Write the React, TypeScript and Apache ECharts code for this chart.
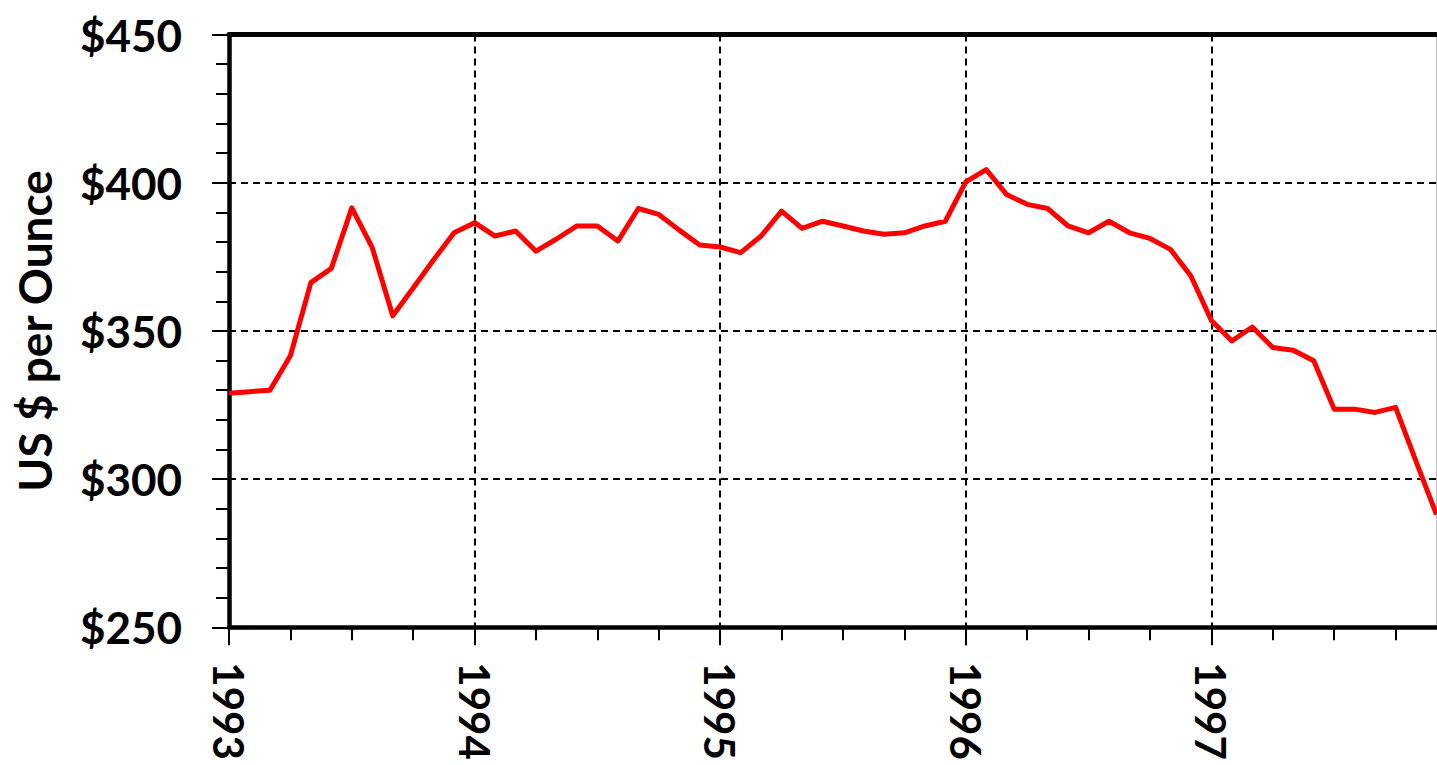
import React, { useEffect, useRef } from "react";
import * as echarts from "echarts";

// Month index from January 1993 (0) to December 1997 (59)
const months = [
  0, 1, 2, 3, 4, 5, 6, 7, 8, 9, 10, 11,
  12, 13, 14, 15, 16, 17, 18, 19, 20, 21, 22, 23,
  24, 25, 26, 27, 28, 29, 30, 31, 32, 33, 34, 35,
  36, 37, 38, 39, 40, 41, 42, 43, 44, 45, 46, 47,
  48, 49, 50, 51, 52, 53, 54, 55, 56, 57, 58, 59,
];
// Gold price, US $ per ounce (monthly)
const prices = [
  329.0, 329.5, 330.0, 341.6, 366.3, 371.1, 391.5, 378.1, 355.1, 364.5, 374.0, 383.1,
  386.5, 382.0, 383.7, 376.9, 381.0, 385.4, 385.4, 380.3, 391.3, 389.3, 384.0, 379.0,
  378.3, 376.4, 382.0, 390.4, 384.6, 387.0, 385.4, 383.7, 382.6, 383.1, 385.4, 387.0,
  400.3, 404.4, 396.0, 392.7, 391.3, 385.4, 383.1, 387.0, 383.1, 381.2, 377.5, 368.5,
  353.5, 346.6, 351.3, 344.4, 343.5, 339.9, 323.6, 323.6, 322.5, 324.2, 306.0, 288.0,
];
const yearLabels = ["1993", "1994", "1995", "1996", "1997"];
const yearTicks = [0, 12, 24, 36, 48];
const quarterTicks = [3, 6, 9, 15, 18, 21, 27, 30, 33, 39, 42, 45, 51, 54, 57];
const yMin = 250;
const yMax = 450;
const yStep = 50;
const xMin = 0;
const xMax = 59;

const FONT = "Lato";

export default function App() {
  const ref = useRef<HTMLDivElement>(null);
  useEffect(() => {
    if (!ref.current) return;
    const chart = echarts.init(ref.current, null, { renderer: "svg" });
    const gridLine = { color: "#000", width: 2, type: [7, 5] };
    const option = {
      animation: false,
      backgroundColor: "#ffffff",
      grid: {
        left: 229,
        right: 0.5,
        top: 34.5,
        bottom: 137.7,
        containLabel: false,
        outerBoundsMode: "none",
      },
      xAxis: [
        {
          type: "value",
          position: "bottom",
          min: xMin,
          max: xMax,
          interval: 12,
          axisLine: { show: true, onZero: false, lineStyle: { color: "#000", width: 4.5 } },
          axisTick: { show: true, length: 18, lineStyle: { color: "#000", width: 2 }, customValues: yearTicks },
          axisLabel: {
            show: true,
            rotate: -90,
            margin: 35,
            fontFamily: FONT,
            fontWeight: "bold",
            fontSize: 42,
            color: "#000",
            customValues: yearTicks,
            formatter: (v: number) => (v % 12 === 0 ? yearLabels[v / 12] ?? "" : ""),
          },
          splitLine: {
            show: true,
            showMinLine: true,
            showMaxLine: true,
            lineStyle: gridLine,
          },
        },
        {
          type: "value",
          position: "bottom",
          min: xMin,
          max: xMax,
          interval: 3,
          axisLine: { show: false, onZero: false },
          axisTick: { show: true, length: 13, lineStyle: { color: "#000", width: 2 }, customValues: quarterTicks },
          axisLabel: { show: false },
          splitLine: { show: false },
        },
        {
          type: "value",
          position: "top",
          min: xMin,
          max: xMax,
          axisLine: { show: true, onZero: false, lineStyle: { color: "#000", width: 5 } },
          axisTick: { show: false },
          axisLabel: { show: false },
          splitLine: { show: false },
        },
      ],
      yAxis: [
        {
          type: "value",
          position: "left",
          min: yMin,
          max: yMax,
          interval: yStep,
          name: "US $ per Ounce",
          nameLocation: "middle",
          nameGap: 172,
          nameRotate: 90,
          nameTextStyle: { fontFamily: FONT, fontWeight: "bold", fontSize: 46, color: "#000" },
          axisLine: { show: true, onZero: false, lineStyle: { color: "#000", width: 4.5 } },
          axisTick: { show: true, length: 17, lineStyle: { color: "#000", width: 2 } },
          minorTick: { show: true, splitNumber: 5, length: 13, lineStyle: { color: "#000", width: 2 } },
          axisLabel: {
            margin: 47,
            fontFamily: FONT,
            fontWeight: "bold",
            fontSize: 44,
            color: "#000",
            formatter: (v: number) => "$" + v,
          },
          splitLine: {
            show: true,
            showMinLine: false,
            showMaxLine: false,
            lineStyle: gridLine,
          },
        },
        {
          type: "value",
          position: "right",
          min: yMin,
          max: yMax,
          axisLine: { show: true, onZero: false, lineStyle: { color: "#a6a6a6", width: 1.5 } },
          axisTick: { show: false },
          axisLabel: { show: false },
          splitLine: { show: false },
        },
      ],
      series: [
        {
          type: "line",
          xAxisIndex: 0,
          yAxisIndex: 0,
          data: months.map((m, i) => [m, prices[i]]),
          showSymbol: false,
          symbol: "none",
          clip: true,
          lineStyle: { color: "#ff0000", width: 5, join: "round" },
          z: 5,
        },
      ],
    };
    chart.setOption(option as any);
    return () => chart.dispose();
  }, []);
  return (
    <div
      ref={ref}
      style={{ position: "fixed", left: 0, top: 0, width: 1437, height: 765, background: "#fff" }}
    />
  );
}
